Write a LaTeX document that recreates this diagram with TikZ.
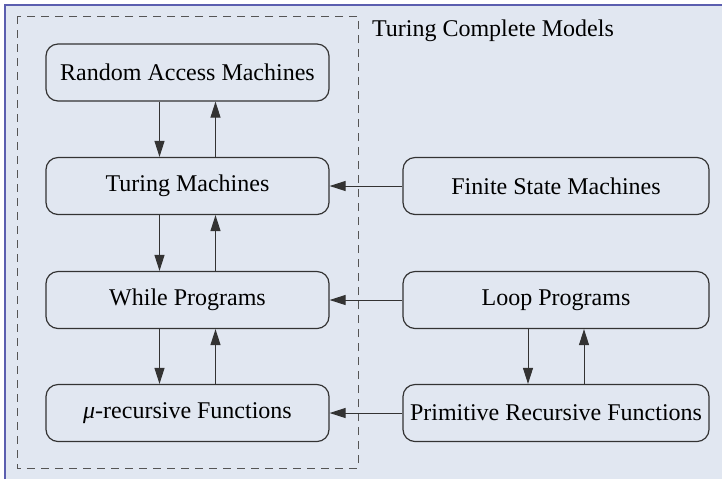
\documentclass[tikz,border=0pt]{standalone}
\usepackage{fontspec}
\setmainfont{Liberation Serif}
\usetikzlibrary{arrows.meta}
\definecolor{bgfill}{HTML}{E1E7F1}
\definecolor{framecol}{HTML}{5B5EAF}
\definecolor{linecol}{HTML}{333333}
\definecolor{dashcol}{HTML}{555555}
\tikzset{
  model/.style={draw=linecol, line width=0.6pt, rounded corners=6pt, minimum height=28.5pt, inner sep=0pt, font=\fontsize{12}{14}\selectfont},
  leftcol/.style={model, minimum width=141.5pt},
  rightcol/.style={model, minimum width=153pt},
  conn/.style={draw=linecol, line width=0.5pt, -{Triangle[length=8pt,width=5pt]}},
}
\begin{document}
\begin{tikzpicture}[x=0.5pt,y=-0.5pt]
\useasboundingbox (0,0) rectangle (722,479);
\fill[bgfill] (5,5) rectangle (722,479);
\draw[framecol, line width=0.8pt] (5,479) -- (5,5) -- (722,5);
\draw[dashcol, line width=0.5pt, dash pattern=on 4pt off 3pt] (17,16) rectangle (358,468);
\node[anchor=west, font=\fontsize{12}{14}\selectfont] (title) at (365,31) {Turing Complete Models};
\node[leftcol] (ram) at (187.5,72.5) {Random Access Machines};
\node[leftcol] (tm) at (187.5,186) {Turing Machines};
\node[leftcol] (wp) at (187.5,300) {While Programs};
\node[leftcol] (mu) at (187.5,413) {\textit{μ}-recursive Functions};
\node[rightcol] (fsm) at (556,186) {Finite State Machines};
\node[rightcol] (lp) at (556,300) {Loop Programs};
\node[rightcol] (prf) at (556,413) {Primitive Recursive Functions};
\draw[conn] ([xshift=-14pt]ram.south) -- ([xshift=-14pt]tm.north);
\draw[conn] ([xshift=14pt]tm.north) -- ([xshift=14pt]ram.south);
\draw[conn] ([xshift=-14pt]tm.south) -- ([xshift=-14pt]wp.north);
\draw[conn] ([xshift=14pt]wp.north) -- ([xshift=14pt]tm.south);
\draw[conn] ([xshift=-14pt]wp.south) -- ([xshift=-14pt]mu.north);
\draw[conn] ([xshift=14pt]mu.north) -- ([xshift=14pt]wp.south);
\draw[conn] ([xshift=-14pt]lp.south) -- ([xshift=-14pt]prf.north);
\draw[conn] ([xshift=14pt]prf.north) -- ([xshift=14pt]lp.south);
\draw[conn] (fsm.west) -- (tm.east);
\draw[conn] (lp.west) -- (wp.east);
\draw[conn] (prf.west) -- (mu.east);
\end{tikzpicture}
\end{document}
